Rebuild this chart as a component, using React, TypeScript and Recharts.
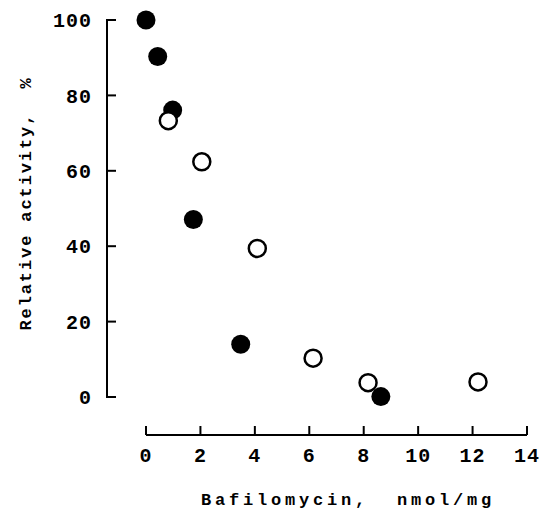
import React from "react";
import { ScatterChart, Scatter, XAxis, YAxis } from "recharts";

// axis ticks
const xTicks = [0, 2, 4, 6, 8, 10, 12, 14];
const yTicks = [0, 20, 40, 60, 80, 100];

// filled circles
const filledDose = [0, 0.43, 0.98, 1.74, 3.48, 8.63];
const filledActivity = [100, 90.3, 76.1, 47.1, 14.0, 0.1];

// open circles
const openDose = [0.82, 2.05, 4.09, 6.14, 8.16, 12.2];
const openActivity = [73.3, 62.4, 39.4, 10.3, 3.8, 4.0];

const filledData = filledDose.map((x, i) => ({ x, y: filledActivity[i] }));
const openData = openDose.map((x, i) => ({ x, y: openActivity[i] }));

const font = '"Liberation Mono", "DejaVu Sans Mono", monospace';

// layout
const W = 543;
const H = 512;
const MARGIN = { top: 20, right: 16, bottom: 7, left: 27 };
const Y_AXIS_W = 80;
const X_AXIS_H = 70;
const X_PAD = 39; // y axis line stands this far left of x = 0
const Y_PAD = 38; // x axis line stands this far below y = 0

const plotLeft = MARGIN.left + Y_AXIS_W;
const yTop = MARGIN.top;
const yBottom = H - MARGIN.bottom - X_AXIS_H - Y_PAD;
const yToPx = (v: number) => yBottom - (v / 100) * (yBottom - yTop);

const FilledDot = (props: any) => (
  <circle cx={props.cx} cy={props.cy} r={9.5} fill="#000" />
);

const OpenDot = (props: any) => (
  <circle cx={props.cx} cy={props.cy} r={8.5} fill="#fff" stroke="#000" strokeWidth={2.5} />
);

const App: React.FC = () => {
  return (
    <div style={{ position: 'absolute', left: 0, top: 0, width: W, height: H, background: '#fff' }}>
      <ScatterChart width={W} height={H} margin={MARGIN}>
        <XAxis
          type="number"
          dataKey="x"
          domain={[0, 14]}
          ticks={xTicks}
          interval={0}
          height={X_AXIS_H}
          padding={{ left: X_PAD, right: 0 }}
          tickSize={-9}
          tickMargin={22}
          axisLine={{ stroke: '#000', strokeWidth: 2, strokeDasharray: `0 ${X_PAD} 1000` }}
          tickLine={{ stroke: '#000', strokeWidth: 2 }}
          tick={{ fill: '#000', fontSize: 20, fontWeight: 700, fontFamily: font, letterSpacing: 1 }}
          label={{
            value: 'Bafilomycin,\u00A0 nmol/mg',
            position: 'insideBottom',
            offset: 0,
            dx: 31,
            style: { fill: '#000', fontSize: 17, fontWeight: 700, fontFamily: font, letterSpacing: 3.8 }
          }}
        />
        <YAxis
          type="number"
          dataKey="y"
          domain={[0, 100]}
          ticks={yTicks}
          interval={0}
          width={Y_AXIS_W}
          padding={{ top: 0, bottom: Y_PAD }}
          tickSize={0}
          tickMargin={15}
          axisLine={false}
          tickLine={false}
          tick={{ fill: '#000', fontSize: 20, fontWeight: 700, fontFamily: font, letterSpacing: 1 }}
          label={{
            value: 'Relative activity,\u00A0 %',
            angle: -90,
            position: 'insideLeft',
            offset: -2,
            dy: -24,
            style: { textAnchor: 'middle', fill: '#000', fontSize: 17, fontWeight: 700, fontFamily: font, letterSpacing: 1.9 }
          }}
        />
        <Scatter data={filledData} shape={FilledDot} isAnimationActive={false} />
        <Scatter data={openData} shape={OpenDot} isAnimationActive={false} />
      </ScatterChart>
      {/* y axis line with inward ticks, laid over the chart */}
      <svg
        width={W}
        height={H}
        style={{ position: 'absolute', left: 0, top: 0, pointerEvents: 'none', zIndex: 1 }}
      >
        <line x1={plotLeft} y1={yTop - 1} x2={plotLeft} y2={yBottom + 1} stroke="#000" strokeWidth={2} />
        {yTicks.map((t) => (
          <line key={t} x1={plotLeft} y1={yToPx(t)} x2={plotLeft + 9} y2={yToPx(t)} stroke="#000" strokeWidth={2} />
        ))}
      </svg>
    </div>
  );
};

export default App;
